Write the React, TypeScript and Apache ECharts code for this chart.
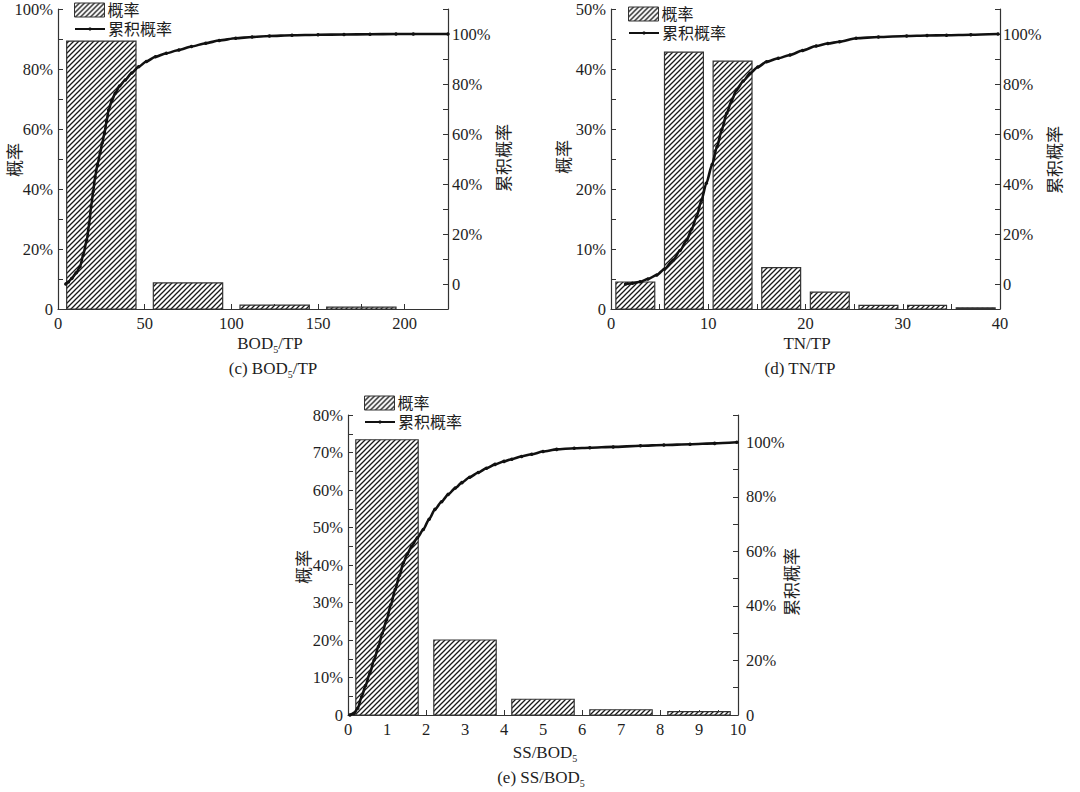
import React, { useEffect, useRef } from 'react';
import * as echarts from 'echarts';

const SERIF = "'Liberation Serif', 'Times New Roman', 'Noto Sans CJK SC', serif";
const CJK = "'Noto Sans CJK SC', 'Liberation Serif', sans-serif";
const INK = '#1e1e1e';
const AXIS = '#333';

const SERIES_PROB = '概率';
const SERIES_CUM = '累积概率';

// ---------- (c) BOD5/TP ----------
const bodTpBinStart = [5, 55, 105, 155];
const bodTpBinEnd = [45, 95, 145, 195];
const bodTpProb = [89.3, 8.7, 1.3, 0.6];
const bodTpCumX = [4.5, 6, 8, 10.5, 12.7, 14.5, 16.6, 18, 19.1, 20.3, 21.4, 22.8, 24.3, 25.5, 26.8, 28, 29.2, 31, 33, 35.5, 38.8, 42.5, 46.5, 51, 56.2, 62.5, 69.7, 77, 85.2, 93, 102.5, 112, 122, 135, 150, 165, 180, 195, 205, 225];
const bodTpCumY = [0, 0.8, 2.3, 4.5, 6.9, 11.5, 17.6, 24, 30.9, 37, 42.9, 47.8, 52.3, 56.4, 60.3, 65, 69.6, 73.3, 76.3, 79.2, 81.6, 84.4, 86.9, 89, 90.9, 92.3, 93.6, 95, 96.3, 97.4, 98.3, 98.8, 99.2, 99.5, 99.7, 99.8, 99.9, 100, 100, 100];

// ---------- (d) TN/TP ----------
const tnTpBinStart = [0.5, 5.5, 10.5, 15.5, 20.5, 25.5, 30.5, 35.5];
const tnTpBinEnd = [4.5, 9.5, 14.5, 19.5, 24.5, 29.5, 34.5, 39.5];
const tnTpProb = [4.5, 42.8, 41.3, 6.9, 2.8, 0.6, 0.6, 0.2];
const tnTpCumX = [1.5, 2.2, 3.0, 3.8, 4.7, 5.5, 6.4, 7.1, 7.8, 8.3, 8.8, 9.3, 9.8, 10.4, 10.9, 11.4, 11.9, 12.4, 12.9, 13.6, 14.3, 15.1, 16.0, 17.2, 18.4, 19.7, 21.1, 22.3, 23.5, 25.2, 27.5, 30.4, 32.5, 34.5, 37, 39.8];
const tnTpCumY = [0, 0.3, 0.9, 2, 3.6, 6, 9.6, 13.4, 17.6, 22, 26.9, 33.5, 40.3, 47.8, 54.9, 61.8, 68.3, 73.3, 77.6, 81.2, 84.3, 86.8, 88.9, 90.3, 91.6, 93.4, 95.2, 96.2, 96.9, 98.3, 98.8, 99.2, 99.4, 99.5, 99.7, 100];

// ---------- (e) SS/BOD5 ----------
const ssBodBinStart = [0.2, 2.2, 4.2, 6.2, 8.2];
const ssBodBinEnd = [1.8, 3.8, 5.8, 7.8, 9.8];
const ssBodProb = [73.4, 20, 4.2, 1.4, 0.9];
const ssBodCumX = [0.05, 0.15, 0.25, 0.35, 0.45, 0.56, 0.67, 0.78, 0.88, 0.99, 1.1, 1.21, 1.32, 1.42, 1.52, 1.63, 1.78, 1.93, 2.08, 2.23, 2.4, 2.57, 2.75, 2.92, 3.12, 3.34, 3.55, 3.77, 4.0, 4.2, 4.45, 4.71, 5.0, 5.35, 5.8, 6.2, 6.8, 7.5, 8.1, 8.77, 9.4, 9.97];
const ssBodCumY = [0, 0.6, 2.5, 6.7, 10.8, 15.3, 20.2, 25.1, 30, 34.9, 40.5, 46, 51.2, 55.8, 59, 61.9, 65, 68, 71.8, 75.4, 78.2, 80.9, 83.2, 85.2, 87.2, 88.9, 90.5, 91.9, 93, 93.8, 94.8, 95.6, 96.6, 97.4, 97.8, 98, 98.3, 98.7, 99, 99.3, 99.6, 100];

// axis ranges [min, max, interval]
const bodTpXRange = [0, 225, 50];
const tnTpXRange = [0, 40, 10];
const ssBodXRange = [0, 10, 1];
const bodTpLeftRange = [0, 100, 20];
const tnTpLeftRange = [0, 50, 10];
const ssBodLeftRange = [0, 80, 10];
const bodTpRightRange = [-10, 110];
const tnTpRightRange = [-10, 110];
const ssBodRightRange = [0, 110];

function makeHatch() {
  const s = 5;
  const c = document.createElement('canvas');
  c.width = s;
  c.height = s;
  const g = c.getContext('2d')!;
  g.fillStyle = '#ffffff';
  g.fillRect(0, 0, s, s);
  g.strokeStyle = '#1a1a1a';
  g.lineWidth = 1.3;
  g.beginPath();
  g.moveTo(0, s);
  g.lineTo(s, 0);
  g.moveTo(-1, 1);
  g.lineTo(1, -1);
  g.moveTo(s - 1, s + 1);
  g.lineTo(s + 1, s - 1);
  g.stroke();
  return { image: c, repeat: 'repeat', imageWidth: s, imageHeight: s } as any;
}

interface Panel {
  binStart: number[];
  binEnd: number[];
  prob: number[];
  cumX: number[];
  cumY: number[];
  xRange: number[];
  leftRange: number[];
  rightRange: number[];
  rightLabelMargin: number;
  grid: { left: number; top: number; width: number; height: number };
  legend: { left: number; top: number };
  xName: string;
  caption: string;
  xNamePos: number[];
  captionPos: number[];
  leftNamePos: number[];
  rightNamePos: number[];
}

const panels: Panel[] = [
  {
    binStart: bodTpBinStart, binEnd: bodTpBinEnd, prob: bodTpProb, cumX: bodTpCumX, cumY: bodTpCumY,
    xRange: bodTpXRange, leftRange: bodTpLeftRange, rightRange: bodTpRightRange, rightLabelMargin: 4,
    grid: { left: 58, top: 9, width: 390, height: 300 },
    legend: { left: 74, top: 2 },
    xName: 'BOD{s|5}/TP', caption: '(c) BOD{s|5}/TP',
    xNamePos: [270, 343], captionPos: [273, 368],
    leftNamePos: [13, 160], rightNamePos: [502, 158],
  },
  {
    binStart: tnTpBinStart, binEnd: tnTpBinEnd, prob: tnTpProb, cumX: tnTpCumX, cumY: tnTpCumY,
    xRange: tnTpXRange, leftRange: tnTpLeftRange, rightRange: tnTpRightRange, rightLabelMargin: 3,
    grid: { left: 611, top: 9, width: 389, height: 300 },
    legend: { left: 628, top: 6 },
    xName: 'TN/TP', caption: '(d) TN/TP',
    xNamePos: [807, 343], captionPos: [800, 368],
    leftNamePos: [562, 157], rightNamePos: [1053, 160],
  },
  {
    binStart: ssBodBinStart, binEnd: ssBodBinEnd, prob: ssBodProb, cumX: ssBodCumX, cumY: ssBodCumY,
    xRange: ssBodXRange, leftRange: ssBodLeftRange, rightRange: ssBodRightRange, rightLabelMargin: 8,
    grid: { left: 348, top: 415, width: 390, height: 300 },
    legend: { left: 364, top: 395 },
    xName: 'SS/BOD{s|5}', caption: '(e) SS/BOD{s|5}',
    xNamePos: [545, 752], captionPos: [541, 777],
    leftNamePos: [302, 567], rightNamePos: [790, 582],
  },
];

function pct(v: number) {
  return v === 0 ? '0' : `${v}%`;
}

function buildOption() {
  const hatch = makeHatch();
  const axisLine = { show: true, onZero: false, lineStyle: { color: AXIS, width: 1.2 } };
  const axisTick = { show: true, inside: true, length: 5, lineStyle: { color: AXIS, width: 1 } };
  const minorTick = { show: true, splitNumber: 2, length: 5, lineStyle: { color: AXIS, width: 1 } };
  const label = { fontFamily: SERIF, fontSize: 16.5, color: INK };

  const grid: any[] = [];
  const xAxis: any[] = [];
  const yAxis: any[] = [];
  const series: any[] = [];
  const legend: any[] = [];
  const graphic: any[] = [];

  const subRich = {
    s: { fontFamily: SERIF, fontSize: 10, lineHeight: 10, verticalAlign: 'bottom', fill: INK, color: INK },
  };

  panels.forEach((p, i) => {
    grid.push({ ...p.grid, containLabel: false });
    const [xMin, xMax, xInt] = p.xRange;
    xAxis.push({
      type: 'value', gridIndex: i, min: xMin, max: xMax, interval: xInt,
      axisLine, axisTick, minorTick,
      splitLine: { show: false }, minorSplitLine: { show: false },
      axisLabel: { ...label, margin: 6, formatter: (v: number) => (Math.abs(v / xInt - Math.round(v / xInt)) < 1e-6 ? String(v) : '') },
    });
    const [lMin, lMax, lInt] = p.leftRange;
    yAxis.push({
      type: 'value', gridIndex: i, position: 'left', min: lMin, max: lMax, interval: lInt,
      axisLine, axisTick, minorTick,
      splitLine: { show: false }, minorSplitLine: { show: false },
      axisLabel: { ...label, margin: 5, formatter: (v: number) => pct(v) },
    });
    const [rMin, rMax] = p.rightRange;
    yAxis.push({
      type: 'value', gridIndex: i, position: 'right', min: rMin, max: rMax, interval: 10,
      axisLine, axisTick,
      splitLine: { show: false },
      axisLabel: { ...label, margin: p.rightLabelMargin, formatter: (v: number) => (v >= 0 && v <= 100 && v % 20 === 0 ? pct(v) : '') },
    });

    series.push({
      type: 'custom',
      name: SERIES_PROB,
      xAxisIndex: i,
      yAxisIndex: 2 * i,
      dimensions: ['start', 'end', 'prob'],
      encode: { x: [0, 1], y: 2 },
      data: p.binStart.map((s, k) => [s, p.binEnd[k], p.prob[k]]),
      itemStyle: { color: '#888', borderColor: AXIS },
      renderItem: (_params: any, api: any) => {
        const a = api.coord([api.value(0), api.value(2)]);
        const b = api.coord([api.value(1), 0]);
        return {
          type: 'rect',
          shape: { x: a[0], y: a[1], width: b[0] - a[0], height: b[1] - a[1] },
          style: { fill: hatch, stroke: AXIS, lineWidth: 1.2 },
        };
      },
      z: 2,
    });
    series.push({
      type: 'line',
      name: SERIES_CUM,
      xAxisIndex: i,
      yAxisIndex: 2 * i + 1,
      data: p.cumX.map((x, k) => [x, p.cumY[k]]),
      symbol: 'circle',
      symbolSize: 3.5,
      showSymbol: true,
      showAllSymbol: true,
      smooth: 0.25,
      smoothMonotone: 'x',
      lineStyle: { color: '#111', width: 2.6 },
      itemStyle: { color: '#111' },
      z: 5,
    });

    const legendText = { fontFamily: SERIF, fontSize: 16, lineHeight: 16, color: INK, padding: [0, 0, 0, -2] };
    legend.push({
      left: p.legend.left, top: p.legend.top, padding: 0,
      itemWidth: 30, itemHeight: 14, selectedMode: false,
      textStyle: legendText,
      data: [{ name: SERIES_PROB, icon: 'rect', itemStyle: { color: hatch, borderColor: AXIS, borderWidth: 1 } }],
    });
    legend.push({
      left: p.legend.left, top: p.legend.top + 19, padding: 0,
      itemWidth: 30, itemHeight: 4, selectedMode: false,
      textStyle: legendText,
      data: [{ name: SERIES_CUM }],
    });

    graphic.push({
      type: 'text', x: p.xNamePos[0], y: p.xNamePos[1],
      style: {
        text: p.xName, fontFamily: SERIF, fontSize: 17, lineHeight: 22, fill: INK,
        align: 'center', verticalAlign: 'middle', textAlign: 'center', textVerticalAlign: 'middle',
        rich: subRich,
      },
    });
    graphic.push({
      type: 'text', x: p.captionPos[0], y: p.captionPos[1],
      style: {
        text: p.caption, fontFamily: SERIF, fontSize: 17, lineHeight: 22, fill: INK,
        align: 'center', verticalAlign: 'middle', textAlign: 'center', textVerticalAlign: 'middle',
        rich: subRich,
      },
    });
    graphic.push({
      type: 'text', x: p.leftNamePos[0], y: p.leftNamePos[1], rotation: Math.PI / 2,
      style: {
        text: SERIES_PROB, fontFamily: CJK, fontSize: 17, fill: INK,
        align: 'center', verticalAlign: 'middle', textAlign: 'center', textVerticalAlign: 'middle',
      },
    });
    graphic.push({
      type: 'text', x: p.rightNamePos[0], y: p.rightNamePos[1], rotation: Math.PI / 2,
      style: {
        text: SERIES_CUM, fontFamily: CJK, fontSize: 17, fill: INK,
        align: 'center', verticalAlign: 'middle', textAlign: 'center', textVerticalAlign: 'middle',
      },
    });
  });

  return {
    animation: false,
    backgroundColor: '#fff',
    textStyle: { fontFamily: SERIF },
    grid,
    xAxis,
    yAxis,
    legend,
    series,
    graphic,
  };
}

export default function App() {
  const ref = useRef<HTMLDivElement>(null);
  useEffect(() => {
    if (!ref.current) return;
    const chart = echarts.init(ref.current, null, { renderer: 'svg' });
    chart.setOption(buildOption() as any);
    return () => chart.dispose();
  }, []);
  return (
    <div
      ref={ref}
      style={{ position: 'absolute', left: 0, top: 0, width: 1080, height: 792, background: '#fff' }}
    />
  );
}
